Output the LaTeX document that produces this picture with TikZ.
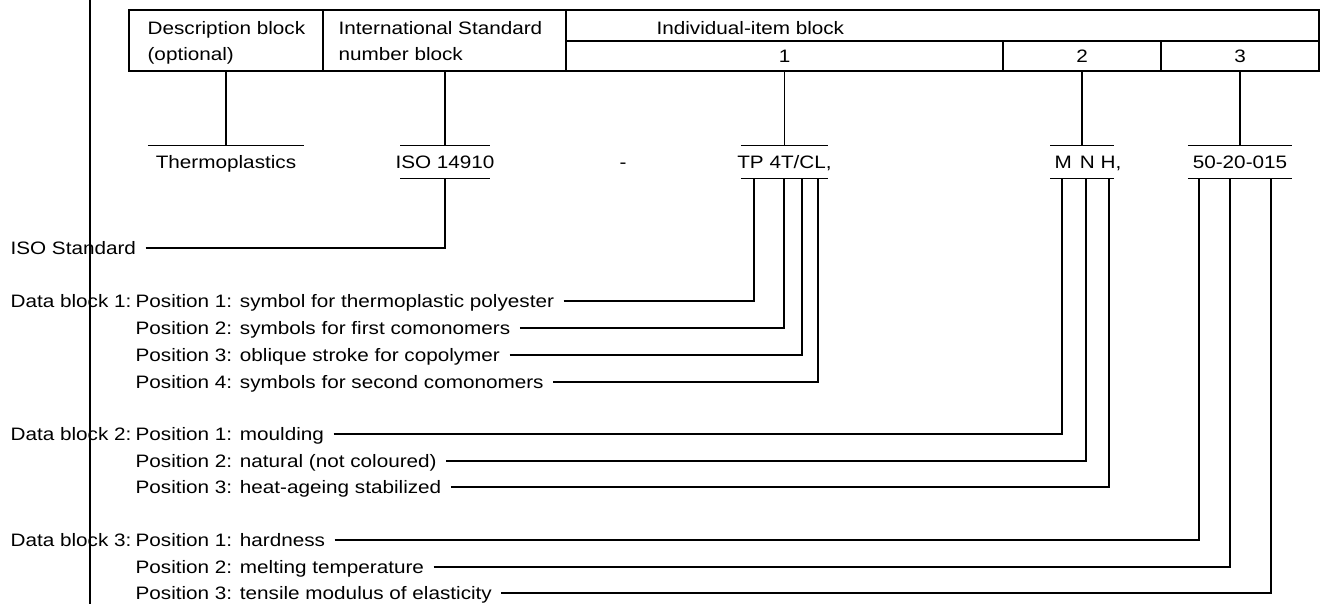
\documentclass[tikz,border=0pt]{standalone}
\usepackage{fontspec}
\setmainfont[FakeStretch=1.15]{Liberation Sans}

\begin{document}
\begin{tikzpicture}[x=0.5pt, y=-0.5pt, line width=0.6pt,
  font=\fontsize{9pt}{13pt}\selectfont,
  cell/.style={draw, inner sep=0pt, minimum height=15pt},
  code/.style={inner xsep=0pt, inner ysep=0pt, text height=6.5pt, text depth=0pt, minimum height=16pt},
  lbl/.style={anchor=west, inner xsep=4.5pt, inner ysep=0pt, text height=6.5pt, text depth=0pt}]

\useasboundingbox (0,0) rectangle (1323,604);

% margin line
\draw (90,0) -- (90,604);

% designation blocks
\node[cell, minimum width=97pt, minimum height=30.5pt] (desc) at (226,40.5) {};
\node[cell, minimum width=121.5pt, minimum height=30.5pt] (intl) at (445,40.5) {};
\node[cell, minimum width=376.5pt, minimum height=15.5pt] (item) at (942.5,25.5) {};
\node[cell, minimum width=218.5pt] (one) at (784.5,56) {1};
\node[cell, minimum width=79pt] (two) at (1082,56) {2};
\node[cell, minimum width=79pt] (three) at (1240,56) {3};
\node[anchor=north west, align=left, inner sep=0pt] (descT) at (147,21) {Description block\\(optional)};
\node[anchor=north west, align=left, inner sep=0pt] (intlT) at (338,21) {International Standard\\number block};
\node[anchor=base west, inner sep=0pt] (itemT) at (656,35) {Individual-item block};

% designation
\node[code, minimum width=77.5pt] (thermo) at (226,162) {\makebox[0pt]{Thermoplastics}};
\node[code, minimum width=44pt] (iso) at (445,162) {\makebox[0pt]{ISO 14910}};
\node[code] (sep) at (623,162) {-};
\node[code, minimum width=43pt] (tp) at (784.5,162) {\makebox[0pt]{TP 4T/CL,}};
\node[code, minimum width=31pt] (mnh) at (1082,162) {\makebox[0pt]{\hspace{6pt}M\hspace{4pt}N\hspace{3pt}H,}};
\node[code, minimum width=51.5pt] (num) at (1240,162) {\makebox[0pt]{50-20-015}};
\foreach \n in {thermo,iso,tp,mnh,num} \draw (\n.north west) -- (\n.north east);
\foreach \n in {iso,tp,mnh,num} \draw (\n.south west) -- (\n.south east);

\draw (desc.south) -- (thermo.north);
\draw (intl.south) -- (iso.north);
\draw (one.south) -- (tp.north);
\draw (two.south) -- (mnh.north);
\draw (three.south) -- (num.north);

% points on the underlines
\foreach \xx [count=\i] in {754,784,802,818} \coordinate (tp\i) at (\xx,178);
\foreach \xx [count=\i] in {1062,1086,1109} \coordinate (mnh\i) at (\xx,178);
\foreach \xx [count=\i] in {1199,1230,1271} \coordinate (num\i) at (\xx,178);

% ISO Standard
\node[lbl] (isostd) at (1,248) {ISO Standard};
\draw (isostd.east) -| (iso.south);

% Data block 1
\node[lbl] (db1) at (1,301) {Data block 1:};
\node[lbl] (d1p1) at (126,301) {Position 1: symbol for thermoplastic polyester};
\node[lbl] (d1p2) at (126,328) {Position 2: symbols for first comonomers};
\node[lbl] (d1p3) at (126,355) {Position 3: oblique stroke for copolymer};
\node[lbl] (d1p4) at (126,382) {Position 4: symbols for second comonomers};
\foreach \i in {1,...,4} \draw (d1p\i.east) -| (tp\i);

% Data block 2
\node[lbl] (db2) at (1,434) {Data block 2:};
\node[lbl] (d2p1) at (126,434) {Position 1: moulding\hspace{3pt}};
\node[lbl] (d2p2) at (126,461) {Position 2: natural (not coloured)};
\node[lbl] (d2p3) at (126,487) {Position 3: heat-ageing stabilized};
\foreach \i in {1,...,3} \draw (d2p\i.east) -| (mnh\i);

% Data block 3
\node[lbl] (db3) at (1,540) {Data block 3:};
\node[lbl] (d3p1) at (126,540) {Position 1: hardness};
\node[lbl] (d3p2) at (126,567) {Position 2: melting temperature};
\node[lbl] (d3p3) at (126,593) {Position 3: tensile modulus of elasticity\hspace{3pt}};
\foreach \i in {1,...,3} \draw (d3p\i.east) -| (num\i);

\end{tikzpicture}
\end{document}
